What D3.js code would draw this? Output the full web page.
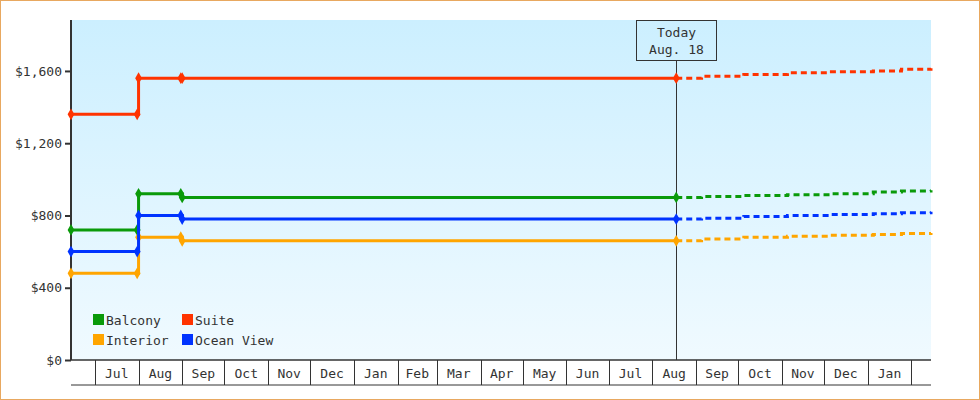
<!DOCTYPE html>
<html><head><meta charset="utf-8">
<script src="https://cdn.jsdelivr.net/npm/d3@7"></script>
<style>body{margin:0}svg{display:block}text{font-family:"DejaVu Sans Mono",monospace;font-size:13px;fill:#333}</style>
</head><body><svg id="c" width="980" height="400"></svg>
<script>
const seriesNames=["Balcony","Suite","Interior","Ocean View"];
const colors=["#0a9a0a","#ff3300","#ffa500","#0033ff"];
// history dates & values (step-after)
const histDates=["2024-06-14","2024-07-31","2024-08-01","2024-08-31","2024-09-01","2025-08-18"];
const balconyHist=[720,720,920,920,900,900];
const suiteHist=[1360,1360,1560,1560,1560,1560];
const interiorHist=[480,480,680,680,660,660];
const oceanHist=[600,600,800,800,780,780];
const histMarkers=[0,1,2,3,4,5];
// forecast
const fcDates=["2025-08-18","2025-09-05","2025-10-05","2025-11-05","2025-12-05","2026-01-05","2026-01-25","2026-02-15"];
const balconyFc=[900,905,910,915,920,930,935,940];
const suiteFc=[1560,1570,1580,1590,1595,1600,1610,1615];
const interiorFc=[660,670,680,685,690,695,700,703];
const oceanFc=[780,785,795,800,805,810,815,820];
const yTicks=[0,400,800,1200,1600];
const monthLabels=["Jul","Aug","Sep","Oct","Nov","Dec","Jan","Feb","Mar","Apr","May","Jun","Jul","Aug","Sep","Oct","Nov","Dec","Jan"];
const todayDate="2025-08-18", todayLabel=["Today","Aug. 18"];

const hist=[balconyHist,suiteHist,interiorHist,oceanHist];
const fc=[balconyFc,suiteFc,interiorFc,oceanFc];
const p=d3.timeParse("%Y-%m-%d");
const svg=d3.select("#c");
svg.append("rect").attr("x",0.5).attr("y",0.5).attr("width",979).attr("height",399).attr("fill","#fff").attr("stroke","#e8a860");
const L=71,R=931,T=20,B=360;
const x=d3.scaleTime().domain([p("2024-06-14"),p("2026-02-15")]).range([L,R]);
const y=d3.scaleLinear().domain([0,1882]).range([B,T]);
const g=svg.append("defs").append("linearGradient").attr("id","bg").attr("x1",0).attr("x2",0).attr("y1",0).attr("y2",1);
g.append("stop").attr("offset",0).attr("stop-color","#ccefff");
g.append("stop").attr("offset",1).attr("stop-color","#f0faff");
svg.append("rect").attr("x",L).attr("y",T).attr("width",R-L).attr("height",B-T).attr("fill","url(#bg)");
// y axis
const ya=svg.append("g").attr("transform",`translate(${L},0)`).call(d3.axisLeft(y).tickValues(yTicks).tickFormat(d=>"$"+d3.format(",")(d)).tickSizeOuter(0).tickSize(6));
ya.select(".domain").remove();
ya.selectAll("line").attr("stroke","#333").attr("stroke-width",2);
ya.selectAll("text").style("font-size","13px").attr("fill","#333");
svg.append("line").attr("x1",L).attr("x2",L).attr("y1",T).attr("y2",B).attr("stroke","#333").attr("stroke-width",2);
// month cells
const months=d3.timeMonth.range(p("2024-07-01"),p("2026-02-02"));
svg.append("line").attr("x1",L).attr("x2",R).attr("y1",B).attr("y2",B).attr("stroke","#333").attr("stroke-width",1.5);
svg.append("line").attr("x1",L).attr("x2",R).attr("y1",385).attr("y2",385).attr("stroke","#333");
months.forEach(m=>{const xx=Math.round(x(m))+0.5;svg.append("line").attr("x1",xx).attr("x2",xx).attr("y1",B).attr("y2",385).attr("stroke","#333");});
months.slice(0,-1).forEach((m,i)=>{svg.append("text").attr("x",(x(m)+x(months[i+1]))/2).attr("y",378).attr("text-anchor","middle").text(monthLabels[i]);});
// today
const tx=Math.round(x(p(todayDate)))+0.5;
svg.append("line").attr("x1",tx).attr("x2",tx).attr("y1",60).attr("y2",B).attr("stroke","#333");
svg.append("rect").attr("x",tx-40).attr("y",20.5).attr("width",80).attr("height",40).attr("fill","none").attr("stroke","#333");
todayLabel.forEach((t,i)=>svg.append("text").attr("x",tx).attr("y",37+i*17).attr("text-anchor","middle").text(t));
// lines
const line=d3.line().curve(d3.curveStepAfter).x(d=>x(d[0])).y(d=>y(d[1]));
const hd=histDates.map(p), fd=fcDates.map(p);
hist.forEach((s,i)=>{
  svg.append("path").attr("d",line(fd.map((d,j)=>[d,fc[i][j]]))).attr("fill","none").attr("stroke",colors[i]).attr("stroke-width",3).attr("stroke-dasharray","6,4");
  svg.append("path").attr("d",line(hd.map((d,j)=>[d,s[j]]))).attr("fill","none").attr("stroke",colors[i]).attr("stroke-width",3);
  histMarkers.forEach(j=>svg.append("path").attr("d",d3.symbol(d3.symbolDiamond,40)()).attr("transform",`translate(${x(hd[j])},${y(s[j])})`).attr("fill",colors[i]));
});
// legend
const pos=[[93,320],[182,320],[93,340],[182,340]];
seriesNames.forEach((n,i)=>{
  svg.append("rect").attr("x",pos[i][0]).attr("y",pos[i][1]-6).attr("width",11).attr("height",11).attr("fill",colors[i]);
  svg.append("text").attr("x",pos[i][0]+13).attr("y",pos[i][1]+5).text(n);
});
</script></body></html>
